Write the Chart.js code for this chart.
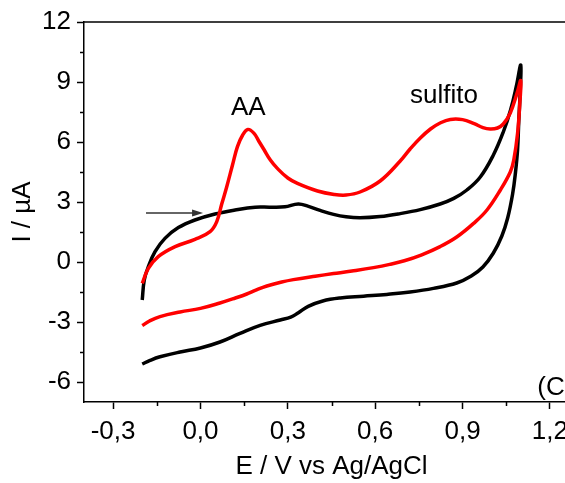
<!DOCTYPE html>
<html lang="pt">
<head>
<meta charset="UTF-8">
<title>Voltametria cíclica - AA e sulfito</title>
<script src="https://cdn.jsdelivr.net/npm/chart.js"></script>
<style>
    html, body {
        margin: 0;
        padding: 0;
        overflow: hidden;
        background: #ffffff;
    }
    .chart-box {
        position: relative;
        width: 600px;
        height: 483px;
    }
</style>
</head>
<body>
<div class="chart-box">
    <canvas id="cvChart"></canvas>
</div>
<script>
// Black voltammogram: forward scan -0.2 -> 1.1 V, then back to -0.2 V
const blackE = [-0.200, -0.193, -0.179, -0.156, -0.122, -0.076, -0.019, 0.050, 0.119, 0.188,
    0.240, 0.290, 0.336, 0.371, 0.411, 0.457, 0.500, 0.548, 0.617, 0.686,
    0.755, 0.823, 0.870, 0.915, 0.961, 1.006, 1.040, 1.065, 1.085, 1.100,
    1.098, 1.093, 1.089, 1.082, 1.072, 1.055, 1.035, 1.006, 0.970, 0.930,
    0.880, 0.800, 0.720, 0.640, 0.560, 0.480, 0.420, 0.370, 0.335, 0.310,
    0.274, 0.205, 0.136, 0.067, 0.000, -0.070, -0.139, -0.175, -0.200];
const blackI = [-1.90, -0.90, -0.23, 0.52, 1.18, 1.72, 2.10, 2.40, 2.60, 2.74,
    2.74, 2.76, 2.90, 2.78, 2.58, 2.38, 2.26, 2.21, 2.27, 2.42,
    2.62, 2.90, 3.18, 3.60, 4.25, 5.35, 6.50, 7.60, 8.80, 9.85,
    8.50, 7.00, 5.60, 4.50, 3.40, 2.20, 1.30, 0.45, -0.25, -0.70,
    -1.05, -1.32, -1.50, -1.62, -1.71, -1.80, -1.95, -2.22, -2.55, -2.76,
    -2.90, -3.17, -3.57, -4.00, -4.30, -4.50, -4.74, -4.93, -5.10];

// Red voltammogram (AA + sulfito)
const redE = [-0.200, -0.179, -0.145, -0.087, -0.019, 0.033, 0.056, 0.073, 0.090, 0.110,
    0.127, 0.145, 0.163, 0.184, 0.200, 0.219, 0.240, 0.264, 0.300, 0.333,
    0.402, 0.459, 0.500, 0.548, 0.617, 0.686, 0.720, 0.755, 0.790, 0.823,
    0.858, 0.900, 0.940, 0.970, 0.995, 1.020, 1.040, 1.064, 1.087, 1.100,
    1.097, 1.089, 1.076, 1.064, 1.030, 0.984, 0.938, 0.880, 0.823, 0.760,
    0.700, 0.650, 0.594, 0.520, 0.457, 0.394, 0.319, 0.279, 0.228, 0.188,
    0.159, 0.120, 0.067, 0.000, -0.070, -0.139, -0.175, -0.200];
const redI = [-1.07, -0.32, 0.27, 0.77, 1.13, 1.52, 2.02, 2.90, 3.75, 4.85,
    5.77, 6.35, 6.63, 6.43, 6.05, 5.60, 5.10, 4.68, 4.20, 3.93,
    3.55, 3.38, 3.35, 3.50, 4.05, 5.05, 5.65, 6.20, 6.65, 6.95,
    7.13, 7.12, 6.92, 6.72, 6.65, 6.70, 6.90, 7.45, 8.43, 9.07,
    8.00, 6.43, 5.10, 4.50, 3.60, 2.60, 1.93, 1.25, 0.77, 0.36,
    0.06, -0.12, -0.28, -0.45, -0.58, -0.71, -0.88, -1.00, -1.20, -1.42,
    -1.60, -1.80, -2.05, -2.32, -2.50, -2.73, -2.95, -3.18];

// Axis ticks
const xTicks = [-0.3, 0.0, 0.3, 0.6, 0.9, 1.2];
const xMinorTicks = [-0.15, 0.15, 0.45, 0.75, 1.05];
const yTicks = [-6, -3, 0, 3, 6, 9, 12];
const yMinorTicks = [-4.5, -1.5, 1.5, 4.5, 7.5, 10.5];

// Text labels and arrow (data coordinates)
const peakLabels = [
    { text: 'AA', e: 0.164, i: 7.35, align: 'center' },
    { text: 'sulfito', e: 0.836, i: 7.93, align: 'center' },
    { text: '(C)', e: 1.157, i: -6.65, align: 'left' }
];
const arrowFrom = { e: -0.187, i: 2.45 };
const arrowTo = { e: 0.009, i: 2.45 };

const toPoints = (es, is) => es.map((e, k) => ({ x: e, y: is[k] }));

Chart.defaults.font.family = 'Arial, "Liberation Sans", sans-serif';
Chart.defaults.color = '#000';

// frame, minor ticks, arrow and labels
const extras = {
    id: 'extras',
    afterDraw(chart) {
        const ctx = chart.ctx;
        const { left, right, top, bottom } = chart.chartArea;
        const xs = chart.scales.x, ys = chart.scales.y;
        ctx.save();
        ctx.strokeStyle = '#000';
        ctx.lineWidth = 1.5;
        ctx.beginPath();
        ctx.moveTo(left, top);
        ctx.lineTo(right, top);
        ctx.lineTo(right, bottom);
        ctx.stroke();

        ctx.beginPath();
        xMinorTicks.forEach(v => {
            const px = Math.round(xs.getPixelForValue(v)) + 0.5;
            ctx.moveTo(px, bottom);
            ctx.lineTo(px, bottom + 4);
        });
        yMinorTicks.forEach(v => {
            const py = Math.round(ys.getPixelForValue(v)) + 0.5;
            ctx.moveTo(left, py);
            ctx.lineTo(left - 4, py);
        });
        ctx.stroke();

        // arrow
        const x1 = xs.getPixelForValue(arrowFrom.e), y1 = ys.getPixelForValue(arrowFrom.i);
        const x2 = xs.getPixelForValue(arrowTo.e), y2 = ys.getPixelForValue(arrowTo.i);
        ctx.strokeStyle = '#333';
        ctx.fillStyle = '#333';
        ctx.lineWidth = 1.3;
        ctx.beginPath();
        ctx.moveTo(x1, y1);
        ctx.lineTo(x2 - 8, y2);
        ctx.stroke();
        ctx.beginPath();
        ctx.moveTo(x2, y2);
        ctx.lineTo(x2 - 11, y2 - 3.5);
        ctx.lineTo(x2 - 11, y2 + 3.5);
        ctx.closePath();
        ctx.fill();

        ctx.fillStyle = '#000';
        ctx.font = '26px Arial, "Liberation Sans", sans-serif';
        ctx.textBaseline = 'alphabetic';
        peakLabels.forEach(l => {
            ctx.textAlign = l.align;
            ctx.fillText(l.text, xs.getPixelForValue(l.e), ys.getPixelForValue(l.i));
        });
        ctx.restore();
    }
};

new Chart(document.getElementById('cvChart'), {
    type: 'scatter',
    data: {
        datasets: [{
            label: 'branco',
            data: toPoints(blackE, blackI),
            borderColor: '#000000',
            order: 1
        }, {
            label: 'AA + sulfito',
            data: toPoints(redE, redI),
            borderColor: '#ff0000',
            order: 0
        }]
    },
    options: {
        responsive: true,
        maintainAspectRatio: false,
        animation: false,
        layout: { padding: { top: 22, right: 21, left: 0, bottom: 0 } },
        elements: {
            point: { radius: 0, hoverRadius: 0 },
            line: { borderWidth: 3.5, tension: 0.4, borderJoinStyle: 'round', fill: false }
        },
        datasets: { scatter: { showLine: true } },
        plugins: {
            legend: { display: false },
            tooltip: { enabled: false }
        },
        scales: {
            x: {
                type: 'linear',
                min: -0.4,
                max: 1.3,
                afterFit(scale) { scale.height = 81; },
                afterBuildTicks(scale) { scale.ticks = xTicks.map(v => ({ value: v })); },
                border: { display: true, color: '#000', width: 1.5 },
                grid: { display: true, drawOnChartArea: false, drawTicks: true, tickLength: 7, tickColor: '#000', tickWidth: 1.5 },
                ticks: {
                    autoSkip: false,
                    maxRotation: 0,
                    padding: 7,
                    font: { size: 26 },
                    color: '#000',
                    callback: v => v.toFixed(1).replace('.', ',')
                },
                title: {
                    display: true,
                    text: 'E / V vs Ag/AgCl',
                    font: { size: 26 },
                    color: '#000',
                    padding: { top: 0, bottom: 1 }
                }
            },
            y: {
                type: 'linear',
                min: -7,
                max: 12,
                afterFit(scale) { scale.width = 84; },
                afterBuildTicks(scale) { scale.ticks = yTicks.map(v => ({ value: v })); },
                border: { display: true, color: '#000', width: 1.5 },
                grid: { display: true, drawOnChartArea: false, drawTicks: true, tickLength: 7, tickColor: '#000', tickWidth: 1.5 },
                ticks: {
                    padding: 6,
                    font: { size: 26 },
                    color: '#000',
                    callback: v => String(v)
                },
                title: {
                    display: true,
                    text: 'I / µA',
                    font: { size: 26 },
                    color: '#000',
                    padding: { top: 7, bottom: 0 }
                }
            }
        }
    },
    plugins: [extras]
});
</script>
</body>
</html>
